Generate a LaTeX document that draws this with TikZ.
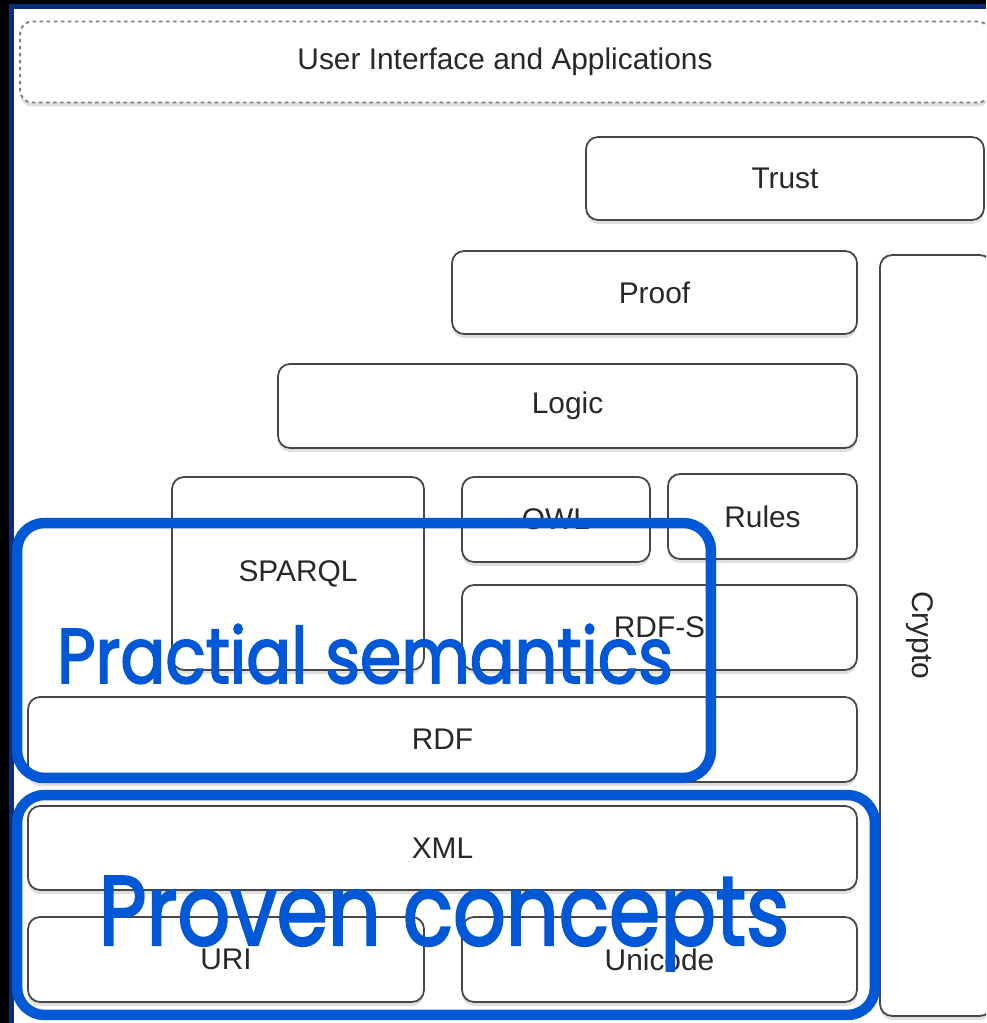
\documentclass[tikz,border=0pt]{standalone}
\usepackage{fontspec}
\setmainfont{Liberation Sans}
\newfontfamily\geofont{Poppins}[UprightFeatures={FakeBold=2.5}]
\usetikzlibrary{positioning,shadows}

\definecolor{framebg}{RGB}{12,46,122}
\definecolor{hiblue}{RGB}{0,88,214}
\definecolor{boxline}{RGB}{70,70,70}
\definecolor{labelgray}{RGB}{40,40,40}

\tikzset{
  layer/.style={draw=boxline, line width=1pt, rounded corners=0.24cm, fill=white,
    drop shadow={shadow xshift=0pt, shadow yshift=-0.08cm, opacity=0.25},
    text=labelgray, font=\fontsize{17}{19}\selectfont, inner sep=0pt},
  uibox/.style={layer, draw=gray, dash pattern=on 2pt off 2pt, line width=1.1pt},
  group/.style={draw=hiblue, line width=0.21cm, rounded corners=0.55cm, inner sep=0pt},
  grouplabel/.style={text=hiblue, anchor=base, inner sep=0pt}
}

\begin{document}
\begin{tikzpicture}[x=0.02cm, y=-0.02cm]
  \useasboundingbox (0,0) rectangle (986,1023);
  \clip (0,0) rectangle (986,1023);
  % frame
  \fill[black] (0,0) rectangle (986,1023);
  \fill[framebg] (9,4) rectangle (986,1023);
  \fill[white] (14,9) rectangle (986,1023);

  % the stack
  \node[uibox, minimum width=19.4cm, minimum height=1.62cm] (ui) at (505,62) {User Interface and Applications};
  \node[layer, minimum width=7.96cm, minimum height=1.66cm] (trust) at (785,178.5) {Trust};
  \node[layer, minimum width=8.1cm, minimum height=1.66cm] (proof) at (654.5,292.5) {Proof};
  \node[layer, minimum width=2.24cm, minimum height=15.22cm] (crypto) at (936,635.5) {};
  \node[rotate=-90, text=labelgray, font=\fontsize{17}{19}\selectfont] (cryptolbl) at (920,635) {Crypto};
  \node[layer, minimum width=11.58cm, minimum height=1.68cm] (logic) at (567.5,406) {Logic};
  \node[layer, minimum width=5.04cm, minimum height=3.86cm] (sparql) at (298,573.5) {SPARQL};
  \node[layer, minimum width=3.76cm, minimum height=1.7cm] (owl) at (556,519.5) {OWL};
  \node[layer, minimum width=3.78cm, minimum height=1.7cm] (rules) at (762.5,516.5) {Rules};
  \node[layer, minimum width=7.9cm, minimum height=1.7cm] (rdfs) at (659.5,627.5) {RDF-S};
  \node[layer, minimum width=16.58cm, minimum height=1.7cm] (rdf) at (442.5,739.5) {RDF};
  \node[layer, minimum width=16.58cm, minimum height=1.68cm] (xml) at (442.5,848) {XML};
  \node[layer, minimum width=7.92cm, minimum height=1.7cm] (uri) at (226,959.5) {URI};
  \node[layer, minimum width=7.9cm, minimum height=1.7cm] (unicode) at (659.5,959.5) {Unicode};

  % highlighted groups
  \node[group, minimum width=13.88cm, minimum height=5.1cm] (practical) at (364,650.5) {};
  \node[group, minimum width=17.16cm, minimum height=4.4cm] (proven) at (446,905) {};
  \node[grouplabel, font=\geofont\fontsize{44}{50}\selectfont] (practicallbl) at (365,683) {\scalebox{0.86}[1]{Practial semantics}};
  \node[grouplabel, font=\geofont\fontsize{56}{62}\selectfont] (provenlbl) at (444,945) {\scalebox{0.84}[1]{Proven concepts}};
\end{tikzpicture}
\end{document}
